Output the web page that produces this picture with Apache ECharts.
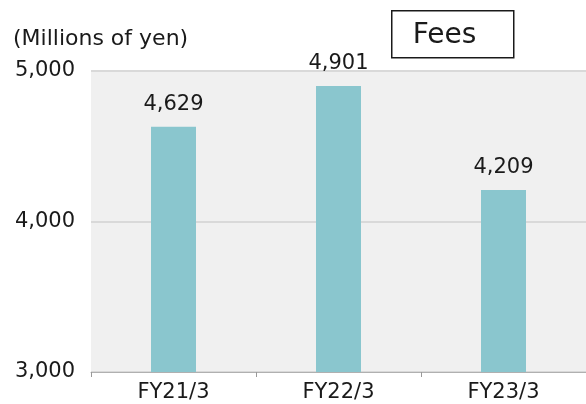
<!DOCTYPE html>
<html>
<head>
<meta charset="utf-8">
<script src="https://cdn.jsdelivr.net/npm/echarts@6/dist/echarts.min.js"></script>
<style>
  html, body { margin: 0; padding: 0; background: #fff; }
  #chart { width: 586px; height: 404px; }
</style>
</head>
<body>
<div id="chart"></div>
<script>
const categories = ['FY21/3', 'FY22/3', 'FY23/3'];
const fees = [4629, 4901, 4209];
const yTicks = [3000, 4000, 5000];

const FONT = 'DejaVu Sans';

let chart = echarts.init(document.getElementById('chart'));

const option = {
  animation: false,
  textStyle: { fontFamily: FONT },
  title: {
    text: '(Millions of yen)',
    left: 8,
    top: 23,
    textStyle: { fontFamily: FONT, fontSize: 22, fontWeight: 'normal', color: '#1a1a1a' }
  },
  grid: {
    left: 91,
    right: 0,
    top: 71,
    bottom: 32,
    show: true,
    backgroundColor: '#F0F0F0',
    borderWidth: 0
  },
  xAxis: {
    type: 'category',
    data: categories,
    axisLine: { lineStyle: { color: '#B0B0B0', width: 1 } },
    axisTick: { show: true, length: 5, lineStyle: { color: '#999999' } },
    axisLabel: { fontFamily: FONT, fontSize: 21, color: '#1a1a1a', margin: 10 }
  },
  yAxis: {
    type: 'value',
    min: yTicks[0],
    max: yTicks[yTicks.length - 1],
    interval: 1000,
    axisLine: { show: false },
    axisTick: { show: false },
    axisLabel: {
      fontFamily: FONT, fontSize: 21, color: '#1a1a1a', margin: 16,
      formatter: v => v.toLocaleString('en-US')
    },
    splitLine: { lineStyle: { color: '#D9D9D9', width: 2 } }
  },
  series: [
    {
      type: 'bar',
      data: fees,
      barWidth: 45,
      itemStyle: { color: '#8AC6CE' },
      label: {
        show: true,
        position: 'top',
        distance: 12,
        fontFamily: FONT,
        fontSize: 21,
        color: '#1a1a1a',
        formatter: p => p.value.toLocaleString('en-US')
      }
    }
  ],
  graphic: [
    {
      type: 'group',
      left: 391,
      top: 10,
      children: [
        {
          type: 'rect',
          shape: { x: 0, y: 0, width: 122, height: 47 },
          style: { fill: '#fff', stroke: '#1a1a1a', lineWidth: 1.5 }
        },
        {
          type: 'text',
          x: 21,
          y: 25,
          style: {
            text: 'Fees',
            fontFamily: FONT,
            fontSize: 28,
            fill: '#1a1a1a',
            verticalAlign: 'middle'
          }
        }
      ]
    }
  ]
};

chart.setOption(option);
</script>
</body>
</html>
